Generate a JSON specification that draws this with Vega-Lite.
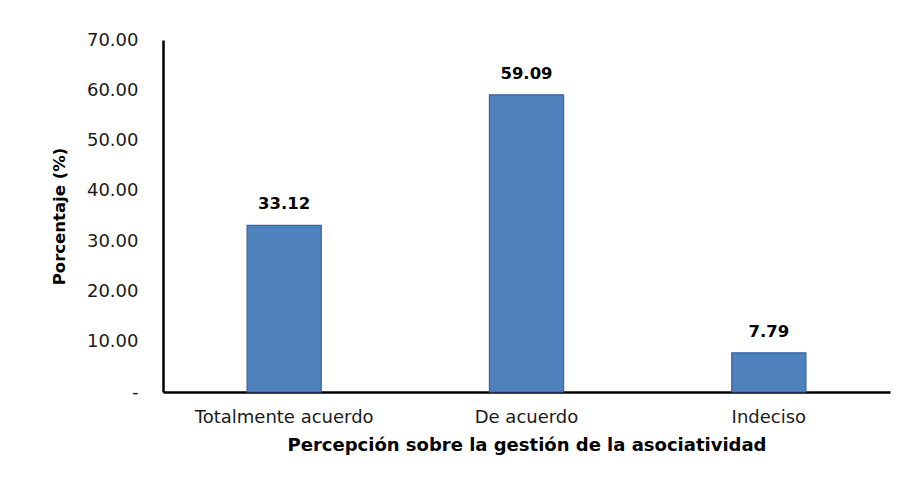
{
  "$schema": "https://vega.github.io/schema/vega-lite/v6.json",
  "autosize": {"type": "none"},
  "width": 727,
  "height": 352,
  "padding": {"left": 163, "top": 40, "right": 12, "bottom": 91},
  "background": "white",
  "config": {
    "view": {"stroke": null},
    "font": "DejaVu Sans"
  },
  "data": {
    "values": [
      {"categoria": "Totalmente acuerdo", "porcentaje": 33.12},
      {"categoria": "De acuerdo", "porcentaje": 59.09},
      {"categoria": "Indeciso", "porcentaje": 7.79}
    ]
  },
  "encoding": {
    "x": {
      "field": "categoria",
      "type": "nominal",
      "sort": null,
      "scale": {"paddingInner": 0.694, "paddingOuter": 0.347},
      "axis": {
        "title": "Percepción sobre la gestión de la asociatividad",
        "titleFont": "DejaVu Sans",
        "titleFontSize": 18,
        "titleFontWeight": "bold",
        "titleColor": "#000000",
        "titlePadding": 10,
        "labelAngle": 0,
        "labelFont": "DejaVu Sans",
        "labelFontSize": 18,
        "labelColor": "#1a1a1a",
        "labelPadding": 16,
        "ticks": false,
        "domainColor": "#000000",
        "domainWidth": 2.5
      }
    },
    "y": {
      "field": "porcentaje",
      "type": "quantitative",
      "scale": {"domain": [0, 70], "nice": false},
      "axis": {
        "title": "Porcentaje (%)",
        "titleFont": "DejaVu Sans",
        "titleFontSize": 16.5,
        "titleFontWeight": "bold",
        "titleColor": "#000000",
        "titlePadding": 19,
        "values": [0, 10, 20, 30, 40, 50, 60, 70],
        "labelExpr": "datum.value == 0 ? '-' : format(datum.value, '.2f')",
        "labelFont": "DejaVu Sans",
        "labelFontSize": 18,
        "labelColor": "#1a1a1a",
        "labelPadding": 25,
        "ticks": false,
        "grid": false,
        "domainColor": "#000000",
        "domainWidth": 2.5
      }
    }
  },
  "layer": [
    {
      "mark": {"type": "bar", "color": "#4F81BD", "stroke": "#3A62A0", "strokeWidth": 1.2}
    },
    {
      "mark": {"type": "text", "baseline": "bottom", "dy": -13, "font": "DejaVu Sans", "fontSize": 16.5, "fontWeight": "bold", "color": "#000000"},
      "encoding": {
        "text": {"field": "porcentaje", "type": "quantitative", "format": ".2f"}
      }
    }
  ]
}
